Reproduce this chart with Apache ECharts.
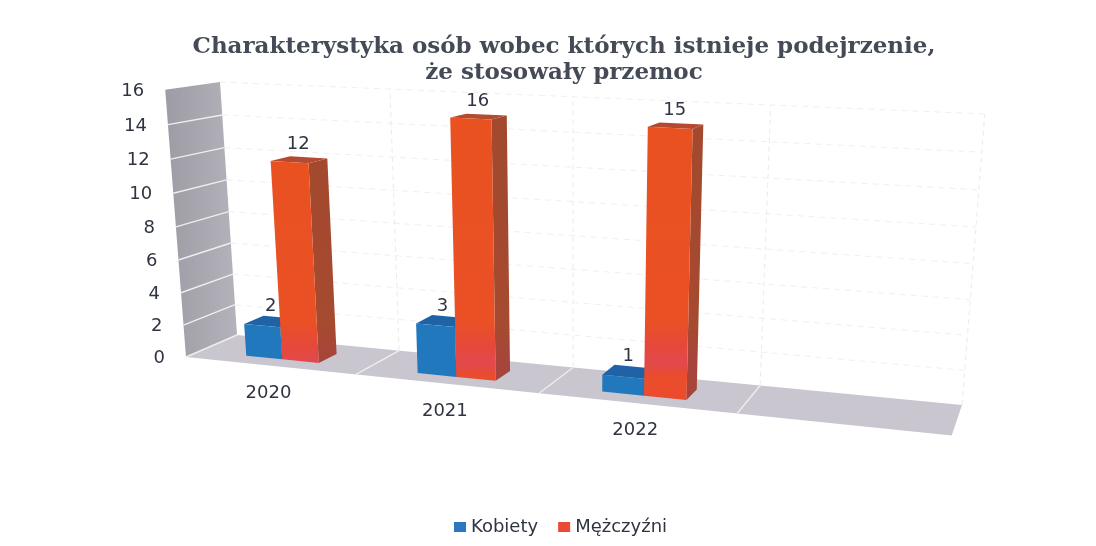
<!DOCTYPE html>
<html><head><meta charset="utf-8">
<style>html,body{margin:0;padding:0;background:#fff}#c{width:1096px;height:546px}</style>
<script src="https://cdn.jsdelivr.net/npm/echarts@6/dist/echarts.min.js"></script>
</head><body><div id="c"></div>
<script>
const categories = ['2020', '2021', '2022', ''];
const kobiety = [2, 3, 1];
const kobietyLabels = [2, 3, 1];
// Bar heights as drawn in the reference; its 2021 bar reaches 15 on the axis but is printed "16".
const mezczyzni = [12, 15, 15];
const mezczyzniLabels = [12, 16, 15];
const valueTicks = [0, 2, 4, 6, 8, 10, 12, 14, 16];
const titleText = 'Charakterystyka osób wobec których istnieje podejrzenie,\nże stosowały przemoc';

// perspective of the box the flat cartesian grid is mapped onto
const O = [237, 335], U = [962, 405], V = [220, 82], D = [186, 357];
const wu = 0.864, wv = 0.952, wd = 0.945;
function P(u, v, d) {
  const w = 1 + u * (wu - 1) + v * (wv - 1) + d * (wd - 1);
  return [0, 1].map(i => (O[i] + u * (wu * U[i] - O[i]) + v * (wv * V[i] - O[i]) + d * (wd * D[i] - O[i])) / w);
}
const uOf = (pt, cs) => (pt[0] - cs.x) / cs.width;
const vOf = (pt, cs) => (cs.y + cs.height - pt[1]) / cs.height;
const poly = (points, fill) => ({ type: 'polygon', shape: { points }, style: { fill } });
const line = (a, b, stroke, width, dash) => ({ type: 'line', shape: { x1: a[0], y1: a[1], x2: b[0], y2: b[1] }, style: { stroke, lineWidth: width, lineDash: dash || null } });
const text = (t, p, font, align) => ({ type: 'text', style: { text: t, x: p[0], y: p[1], fill: '#2f3440', font, align: align || 'center', verticalAlign: 'middle' } });
const LABEL_FONT = '18px "DejaVu Sans"';
const DEPTH_BACK = 0.35, DEPTH_FRONT = 0.74, BAR_FRAC = 0.216;

function renderBackdrop(params, api) {
  const cs = params.coordSys, els = [];
  const wallGrad = { type: 'linear', x: 0, y: 0, x2: 1, y2: 0, colorStops: [{ offset: 0, color: '#9d9ba3' }, { offset: 1, color: '#b4b2ba' }] };
  els.push(poly([P(0, 0, 0), P(0, 1, 0), P(0, 1, 1), P(0, 0, 1)], wallGrad));
  els.push(poly([P(0, 0, 0), P(1, 0, 0), P(1, 0, 1), P(0, 0, 1)], '#c9c6cf'));
  valueTicks.forEach(t => {
    const v = vOf(api.coord([0, t]), cs);
    if (t > 0) {
      if (t < 16) els.push(line(P(0, v, 1), P(0, v, 0), '#eeeef0', 1.4));
      els.push(line(P(0, v, 0), P(1, v, 0), '#f0f0f0', 1, [6, 5]));
    }
    const p = P(0, v, 1);
    els.push(text(String(t), [p[0] - 21, p[1] + 1.5], LABEL_FONT, 'right'));
  });
  categories.forEach((c, i) => {
    const u = uOf(api.coord([i, 0]), cs), cw = api.size([1, 0])[0] / cs.width, u1 = u + cw / 2;
    els.push(line(P(u1, 0, 0), P(u1, 1, 0), '#ebebeb', 1, [5, 4]));
    if (u1 < 0.99) els.push(line(P(u1, 0, 0), P(u1, 0, 1), '#eeeef0', 1.4));
    if (c) { const p = P(u, 0, 1); els.push(text(c, [p[0] - 1, p[1] + 27.5], LABEL_FONT)); }
  });
  els.push(line(P(0, 0, 0), P(0, 0, 1), '#eeeef0', 1.4));
  return { type: 'group', children: els };
}

function barRenderer(sign, labels, front, side, topColor) {
  return function (params, api) {
    const cs = params.coordSys;
    const base = api.coord([api.value(0), 0]), top = api.coord([api.value(0), api.value(1)]);
    const cw = api.size([1, 0])[0] / cs.width, uc = uOf(base, cs), v = vOf(top, cs);
    const a = sign < 0 ? uc - cw * BAR_FRAC : uc, b = sign < 0 ? uc : uc + cw * BAR_FRAC;
    const f = DEPTH_FRONT, k = DEPTH_BACK;
    const lab = P((a + b) / 2, v, (f + k) / 2);
    return { type: 'group', children: [
      poly([P(b, 0, f), P(b, 0, k), P(b, v, k), P(b, v, f)], side),
      poly([P(a, v, f), P(b, v, f), P(b, v, k), P(a, v, k)], topColor),
      poly([P(a, 0, f), P(b, 0, f), P(b, v, f), P(a, v, f)], front),
      text(String(labels[params.dataIndex]), [lab[0] - 1, lab[1] - 15], LABEL_FONT)
    ] };
  };
}
const menFront = { type: 'linear', global: true, x: 0, y: 0, x2: 0, y2: 546, colorStops: [
  { offset: 0, color: '#e9521f' }, { offset: 0.59, color: '#ea5024' }, { offset: 0.635, color: '#e5483c' },
  { offset: 0.665, color: '#e2494c' }, { offset: 0.69, color: '#ea4c2c' }, { offset: 1, color: '#ea4c2c' }] };
const menSide = { type: 'linear', global: true, x: 0, y: 0, x2: 0, y2: 546, colorStops: [
  { offset: 0, color: '#a0482d' }, { offset: 0.6, color: '#a64a30' }, { offset: 0.66, color: '#a8443c' }, { offset: 1, color: '#a04630' }] };

const chart = echarts.init(document.getElementById('c'));
chart.setOption({
  animation: false,
  backgroundColor: '#fff',
  title: { text: titleText, left: 559, top: 29, textAlign: 'center',
    textStyle: { fontFamily: '"DejaVu Serif"', fontWeight: 'bold', fontSize: 23, lineHeight: 26, color: '#444a56' } },
  legend: { data: ['Kobiety', 'Mężczyźni'], left: 449, top: 513, icon: 'rect', itemWidth: 12, itemHeight: 10, itemGap: 20,
    textStyle: { fontFamily: '"DejaVu Sans"', fontSize: 18, color: '#2f3440' } },
  grid: { left: 237, right: 134, top: 82, height: 323 },
  xAxis: { type: 'category', data: categories, show: false },
  yAxis: { type: 'value', min: 0, max: 16, interval: 2, show: false },
  series: [
    { type: 'custom', name: 'box', silent: true, clip: false, renderItem: renderBackdrop, data: [[0, 0]], encode: { x: 0, y: 1 }, z: 1 },
    { type: 'custom', name: 'Kobiety', clip: false, itemStyle: { color: '#2a78bf' }, renderItem: barRenderer(-1, kobietyLabels, '#2278bd', '#1d5f9c', '#1f62a5'),
      data: kobiety.map((v, i) => [i, v]), encode: { x: 0, y: 1 }, z: 2 },
    { type: 'custom', name: 'Mężczyźni', clip: false, itemStyle: { color: '#ea4a35' }, renderItem: barRenderer(1, mezczyzniLabels, menFront, menSide, '#b44a30'),
      data: mezczyzni.map((v, i) => [i, v]), encode: { x: 0, y: 1 }, z: 3 }
  ]
});
</script></body></html>
